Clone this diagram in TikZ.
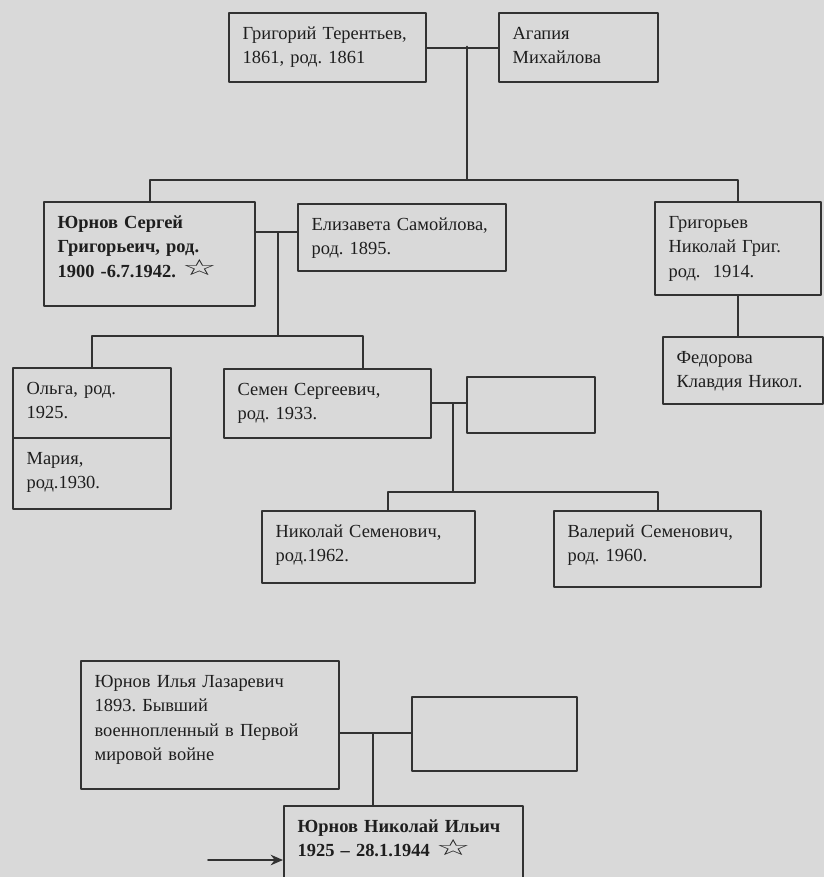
\documentclass[tikz,border=0pt]{standalone}
\usepackage{fontspec}
\usetikzlibrary{arrows.meta}
\setmainfont{Liberation Serif}
\newfontfamily\symfont{DejaVu Sans}
\definecolor{nen}{RGB}{217,217,217}
\definecolor{vien}{RGB}{50,50,50}
\definecolor{chu}{RGB}{30,30,30}
\newcommand{\sao}{\raisebox{0.15ex}{\symfont\bfseries\scalebox{2.1}[1.2]{☆}}}
\frenchspacing
\begin{document}
\begin{tikzpicture}[x=0.02cm,y=-0.02cm,
				line join = round,line cap = round,>={Stealth[length=7pt,width=6pt]},
				hcnxam/.style 2 args={rectangle,draw = vien,line width=1.3pt,anchor=north west,align=left,inner xsep=0.27cm,inner ysep=0.25cm,text width=#1*0.02cm-0.54cm,text height=8pt,text depth=#2*0.02cm-0.5cm-8pt,text=chu,font=\fontsize{10.5}{13.8}\selectfont},
				noi/.style={draw = vien,line width=1.1pt}]
				\fill[nen] (0,0) rectangle (824,877);
				\useasboundingbox (0,0) rectangle (824,877);
				\clip (0,0) rectangle (824,877);
				\node at (228,12) (nodeGT) [hcnxam={197}{69}] {Григорий Терентьев,\\1861, род. 1861};
				\node at (498,12) (nodeAM) [hcnxam={159}{69}] {Агапия\\Михайлова};
				\node at (43,201) (nodeYS) [hcnxam={211}{104}] {\bfseries Юрнов Сергей\\Григорьеич, род.\\1900 -6.7.1942. \sao};
				\node at (297,203) (nodeES) [hcnxam={208}{67}] {Елизавета Самойлова,\\род. 1895.};
				\node at (654,201) (nodeGN) [hcnxam={166}{93}] {Григорьев\\Николай Григ.\\род.~~1914.};
				\node at (662,336) (nodeFK) [hcnxam={160}{67}] {Федорова\\Клавдия Никол.};
				\node at (12,367) (nodeOl) [hcnxam={158}{70}] {Ольга, род.\\1925.};
				\node at (12,437) (nodeMa) [hcnxam={158}{71}] {Мария,\\род.1930.};
				\node at (223,368) (nodeSS) [hcnxam={207}{69}] {Семен Сергеевич,\\род. 1933.};
				\node at (466,376) (nodeX1) [hcnxam={128}{56}] {};
				\node at (261,510) (nodeNS) [hcnxam={213}{72}] {Николай Семенович,\\род.1962.};
				\node at (553,510) (nodeVS) [hcnxam={207}{76}] {Валерий Семенович,\\род. 1960.};
				\node at (80,660) (nodeYI) [hcnxam={258}{128}] {Юрнов Илья Лазаревич\\1893. Бывший\\военнопленный в Первой\\мировой войне};
				\node at (411,696) (nodeX2) [hcnxam={165}{74}] {};
				\node at (283,805) (nodeYN) [hcnxam={239}{110}] {\bfseries Юрнов Николай Ильич\\1925 – 28.1.1944 \sao};
				\coordinate (hubGT) at (467,46.5);
				\coordinate (barGT) at (467,180);
				\coordinate (hubYS) at (278,232);
				\coordinate (barYS) at (278,336);
				\coordinate (hubSS) at (453,403);
				\coordinate (barSS) at (453,492);
				\coordinate (hubYI) at (373,733);
				\coordinate (tailYN) at (208,860);
				\draw[noi] (nodeGT) -- (nodeAM);
				\draw[noi] (hubGT) -- (barGT);
				\draw[noi] (nodeYS.north) |- (barGT) -| (nodeGN.north);
				\draw[noi] (nodeYS.east |- hubYS) -- (nodeES.west |- hubYS);
				\draw[noi] (hubYS) -- (barYS);
				\draw[noi] (nodeOl.north) |- (barYS) -| ([xshift=0.71cm]nodeSS.north);
				\draw[noi] (nodeGN.south) -- (nodeGN.south |- nodeFK.north);
				\draw[noi] (nodeSS.east |- hubSS) -- (nodeX1.west |- hubSS);
				\draw[noi] (hubSS) -- (barSS);
				\draw[noi] ([xshift=0.39cm]nodeNS.north) |- (barSS) -| (nodeVS.north);
				\draw[noi] (nodeYI.east |- hubYI) -- (nodeX2.west |- hubYI);
				\draw[noi] (hubYI) -- (hubYI |- nodeYN.north);
				\draw[noi,->] (tailYN) -- (tailYN -| nodeYN.west);
			\end{tikzpicture}
\end{document}
